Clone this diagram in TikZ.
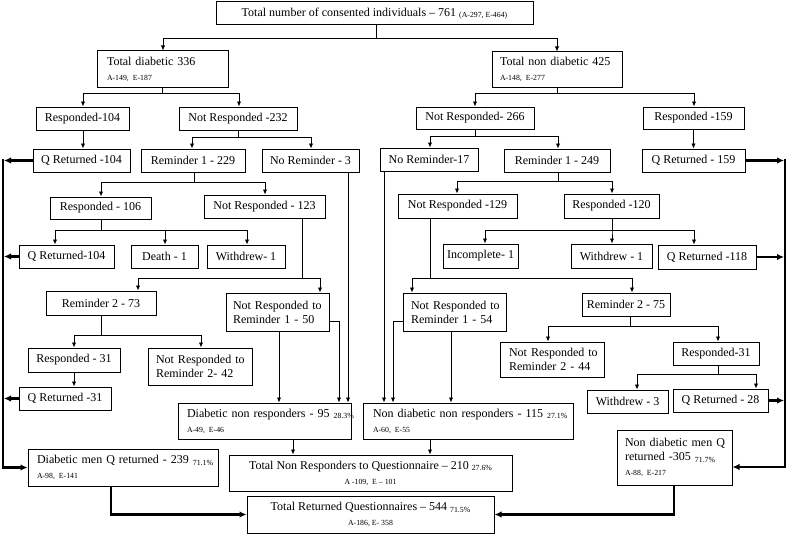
\documentclass[tikz,border=0pt]{standalone}
\usepackage{fontspec}
\setmainfont{Liberation Serif}
\usetikzlibrary{arrows.meta}
\newcommand\smtxt[1]{{\fontsize{7.8}{9}\selectfont #1}}
\newcommand\lowtxt[1]{\raisebox{-1.5pt}{\fontsize{7.8}{9}\selectfont #1}}
\newcommand\Bx[7]{%
  \pgfmathsetmacro\BxW{#4-#2}%
  \pgfmathsetmacro\BxH{#5-#3}%
  \pgfmathsetmacro\BxX{(#2+#4)/2}%
  \pgfmathsetmacro\BxY{(#3+#5)/2}%
  \node[box,minimum width=\BxW pt,minimum height=\BxH pt,#6] (#1) at (\BxX,\BxY) {#7};}
% parent, px, yfork, child, cx
\newcommand\Fork[5]{\draw[arr] (#1.south -| #2,0) |- (#5,#3) -- (#4.north -| #5,0);}
\tikzset{
  box/.style={draw, line width=1pt, inner sep=0pt, font=\fontsize{12}{14}\selectfont, align=center},
  arr/.style={line width=0.9pt, -{Latex[length=5pt,width=4.5pt]}},
  ln/.style={line width=0.9pt},
  bus/.style={line width=2.6pt, -{Latex[length=7pt,width=6.5pt]}},
  busln/.style={line width=2.6pt},
}
\begin{document}
\begin{tikzpicture}[x=1pt,y=-1pt]
\path[use as bounding box, fill=white] (0,0) rectangle (787,535);

% ---------- boxes ----------
\Bx{top}{216}{2}{533}{25}{}{Total number of consented individuals – 761 \lowtxt{(A-297, E-464)}}
\Bx{td}{97}{51}{228}{87}{align=left,text width=111pt}{\mbox{Total diabetic 336}\\[1pt]\smtxt{A-149, E-187}}
\Bx{tnd}{492}{52}{622}{87}{align=left,text width=114pt}{\mbox{Total non diabetic 425}\\[1pt]\smtxt{A-148, E-277}}

\Bx{r104}{36}{107}{129}{130}{}{Responded-104}
\Bx{nr232}{179}{107}{297}{130}{}{Not Responded -232}
\Bx{qr104a}{33}{149}{130}{172}{}{Q Returned -104}
\Bx{rem229}{141}{149}{245}{172}{}{Reminder 1 - 229}
\Bx{norem3}{262}{149}{359}{172}{}{No Reminder - 3}

\Bx{nr266}{416}{107}{534}{129}{}{Not Responded- 266}
\Bx{r159}{643}{107}{744}{129}{}{Responded -159}
\Bx{norem17}{380}{148}{478}{171}{}{No Reminder-17}
\Bx{rem249}{504}{149}{610}{172}{}{Reminder 1 - 249}
\Bx{qr159}{642}{149}{745}{172}{}{Q Returned - 159}

\Bx{r106}{50}{197}{151}{219}{}{Responded - 106}
\Bx{nr123}{204}{195}{325}{218}{}{Not Responded - 123}
\Bx{qr104b}{19}{245}{114}{268}{}{Q Returned-104}
\Bx{death}{131}{245}{198}{268}{}{Death - 1}
\Bx{wd1a}{207}{245}{285}{268}{}{Withdrew- 1}
\Bx{rem273}{46}{291}{156}{315}{}{Reminder 2 - 73}
\Bx{nrr150}{226}{293}{329}{331}{align=left,text width=89pt}{\mbox{Not Responded to}\\\mbox{Reminder 1 - 50}}
\Bx{r31a}{28}{348}{120}{372}{}{Responded - 31}
\Bx{nrr242}{148}{348}{252}{385}{align=left,text width=88pt}{\mbox{Not Responded to}\\\mbox{Reminder 2- 42}}
\Bx{qr31}{19}{387}{111}{410}{}{Q Returned -31}

\Bx{nr129}{398}{194}{517}{218}{}{Not Responded -129}
\Bx{r120}{564}{194}{659}{218}{}{Responded -120}
\Bx{incomp}{443}{244}{518}{268}{}{Incomplete- 1}
\Bx{wd1b}{571}{244}{652}{268}{}{Withdrew - 1}
\Bx{qr118}{658}{245}{756}{269}{}{Q Returned -118}
\Bx{nrr154}{403}{293}{506}{331}{align=left,text width=87pt}{\mbox{Not Responded to}\\\mbox{Reminder 1 - 54}}
\Bx{rem275}{582}{293}{670}{316}{}{Reminder 2 - 75}
\Bx{nrr244}{500}{342}{604}{377}{align=left,text width=86pt}{\mbox{Not Responded to}\\\mbox{Reminder 2 - 44}}
\Bx{r31b}{673}{342}{759}{365}{}{Responded-31}
\Bx{wd3}{587}{390}{668}{413}{}{Withdrew - 3}
\Bx{qr28}{673}{389}{768}{412}{}{Q Returned - 28}

\Bx{dnr}{178}{403}{351}{439}{align=left,text width=155pt}{\mbox{Diabetic non responders - 95 \lowtxt{28.3\%}}\\[1pt]\smtxt{A-49, E-46}}
\Bx{ndnr}{363}{403}{573}{439}{align=left,text width=190pt}{\mbox{Non diabetic non responders - 115 \lowtxt{27.1\%}}\\[1pt]\smtxt{A-60, E-55}}
\Bx{dmq}{28}{449}{218}{486}{align=left,text width=172pt}{\mbox{Diabetic men Q returned - 239 \lowtxt{71.1\%}}\\[1pt]\smtxt{A-98, E-141}}
\Bx{ndmq}{617}{430}{732}{485}{align=left,text width=99pt}{\mbox{Non diabetic men Q}\\\mbox{returned -305 \lowtxt{71.7\%}}\\[1pt]\smtxt{A-88, E-217}}
\Bx{tnr}{229}{455}{512}{491}{}{Total Non Responders to Questionnaire – 210 \lowtxt{27.6\%}\\[1pt]\smtxt{A -109,\ \ E – 101}}
\Bx{trq}{247}{496}{494}{533}{}{Total Returned Questionnaires – 544 \lowtxt{71.5\%}\\[1pt]\smtxt{A-186, E- 358}}

% ---------- tree forks ----------
\Fork{top}{376}{38}{td}{163}
\Fork{top}{376}{38}{tnd}{557}
\Fork{td}{162}{93}{r104}{83}
\Fork{td}{162}{93}{nr232}{239}
\Fork{nr232}{238}{137}{rem229}{192}
\Fork{nr232}{238}{137}{norem3}{311}
\Fork{tnd}{557}{93}{nr266}{475}
\Fork{tnd}{557}{93}{r159}{694}
\Fork{nr266}{475}{136}{norem17}{430}
\Fork{nr266}{475}{136}{rem249}{558}
\Fork{rem229}{194}{182}{r106}{101}
\Fork{rem229}{194}{182}{nr123}{265}
\Fork{r106}{101}{230}{qr104b}{55}
\Fork{r106}{101}{230}{death}{165}
\Fork{r106}{101}{230}{wd1a}{247}
\Fork{nr123}{302}{278}{rem273}{138}
\Fork{nr123}{302}{278}{nrr150}{320}
\Fork{rem273}{101}{335}{r31a}{74}
\Fork{rem273}{101}{335}{nrr242}{201}
\Fork{rem249}{558}{181}{nr129}{457}
\Fork{rem249}{558}{181}{r120}{612}
\Fork{r120}{612}{230}{incomp}{485}
\Fork{r120}{612}{230}{wd1b}{612}
\Fork{r120}{612}{230}{qr118}{694}
\Fork{nr129}{430}{278}{nrr154}{412}
\Fork{nr129}{430}{278}{rem275}{632}
\Fork{rem275}{630}{326}{nrr244}{548}
\Fork{rem275}{630}{326}{r31b}{718}
\Fork{r31b}{718}{374}{wd3}{637}
\Fork{r31b}{718}{374}{qr28}{756}

% ---------- straight arrows ----------
\draw[arr] (r104.south -| 83,0) -- (qr104a.north -| 83,0);
\draw[arr] (r159.south) -- (r159.south |- qr159.north);
\draw[arr] (r31a.south) -- (r31a.south |- qr31.north);

% ---------- to non responder boxes ----------
\draw[arr] (nrr150.south -| 279,0) -- (dnr.north -| 279,0);
\draw[arr] (nrr150.east |- 0,321) -| (dnr.north -| 339,0);
\draw[arr] (norem3.south -| 348,0) -- (dnr.north -| 348,0);
\draw[arr] (norem17.south -| 384,0) -- (ndnr.north -| 384,0);
\draw[arr] (nrr154.west |- 0,321) -| (ndnr.north -| 393,0);
\draw[arr] (nrr154.south -| 451,0) -- (ndnr.north -| 451,0);
\draw[arr] (dnr.south -| 293,0) -- (tnr.north -| 293,0);
\draw[arr] (ndnr.south -| 430,0) -- (tnr.north -| 430,0);

% ---------- left bus ----------
\draw[bus] (qr104a.west) -- (qr104a.west -| 4,0);
\draw[bus] (qr104b.west) -- (qr104b.west -| 4,0);
\draw[bus] (qr31.west) -- (qr31.west -| 4,0);
\draw[bus] ([yshift=1.3pt]qr104a.west -| 3,0) |- (dmq.west);

% ---------- right bus ----------
\draw[bus] (qr159.east) -- (qr159.east -| 784,0);
\draw[bus] (qr118.east) -- (qr118.east -| 784,0);
\draw[bus] (qr28.east) -- (qr28.east -| 784,0);
\draw[bus] ([yshift=1.3pt]qr159.east -| 785,0) |- (ndmq.east |- 0,467);

% ---------- bottom ----------
\draw[bus] (dmq.south -| 111,0) |- (trq.west);
\draw[bus] (ndmq.south -| 674,0) |- (trq.east);
\end{tikzpicture}
\end{document}
